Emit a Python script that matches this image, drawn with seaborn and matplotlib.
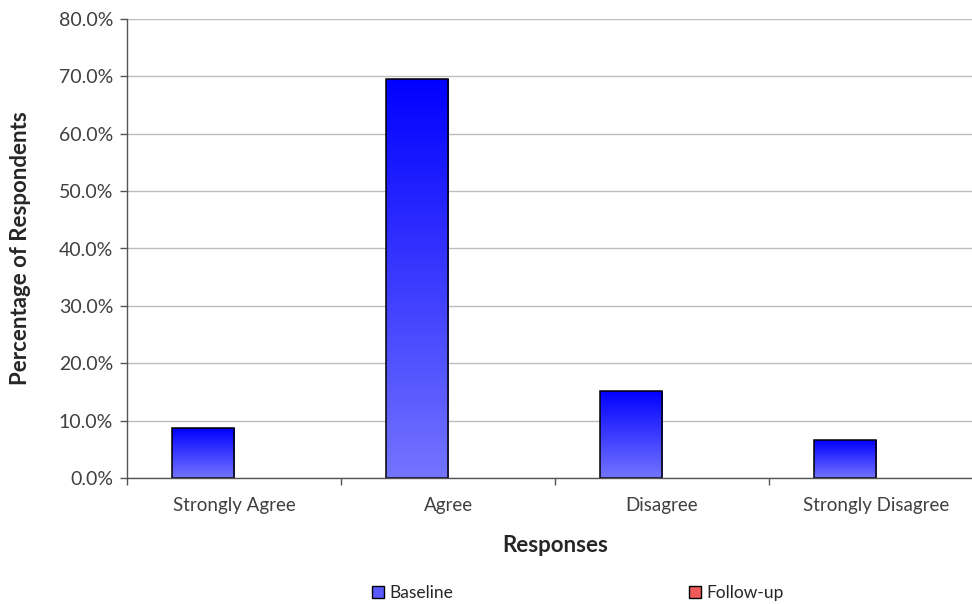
import numpy as np
import pandas as pd
import matplotlib
matplotlib.use("Agg")
import matplotlib.pyplot as plt
from matplotlib.patches import Patch
from matplotlib.colors import LinearSegmentedColormap
from matplotlib.ticker import FixedLocator, FuncFormatter
import seaborn as sns

# Survey responses (percentage of respondents)
responses = ["Strongly Agree", "Agree", "Disagree", "Strongly Disagree"]
baseline = [8.7, 69.6, 15.2, 6.6]
follow_up = [0.0, 0.0, 0.0, 0.0]
series = ["Baseline", "Follow-up"]
y_ticks = [0, 10, 20, 30, 40, 50, 60, 70, 80]

df = pd.DataFrame({
    "Response": responses * 2,
    "Percent": baseline + follow_up,
    "Survey": [series[0]] * len(responses) + [series[1]] * len(responses),
})

sns.set_theme(style="white")
plt.rcParams["font.family"] = ["Lato", "DejaVu Sans"]

fig = plt.figure(figsize=(9.72, 6.04), dpi=100)
ax = fig.add_axes([127 / 972, 1 - 478 / 604, (983 - 127) / 972, (478 - 19) / 604])

blue_grad = LinearSegmentedColormap.from_list("bg", ["#7474ff", "#0000ff"])
red_grad = LinearSegmentedColormap.from_list("rg", ["#ff8080", "#e02020"])

sns.barplot(data=df, x="Response", y="Percent", hue="Survey", order=responses,
            hue_order=series, palette=["#4d4dff", "#f05050"], width=0.58,
            edgecolor="black", linewidth=1.1, ax=ax, legend=False, saturation=1)

# vertical gradient fill for each bar
grad = np.linspace(0, 1, 256).reshape(-1, 1)
for i, p in enumerate(list(ax.patches)):
    h = p.get_height()
    if h <= 0:
        p.set_visible(False)
        continue
    x0, w = p.get_x(), p.get_width()
    cmap = blue_grad if i < len(responses) else red_grad
    im = ax.imshow(grad, cmap=cmap, origin="lower", aspect="auto",
                   extent=[x0, x0 + w, 0, h], zorder=p.get_zorder() - 0.1)
    im.set_clip_path(p)
    p.set_facecolor("none")

ax.set_xlim(-0.5, len(responses) - 0.5)
ax.set_ylim(0, 80)
ax.yaxis.set_major_locator(FixedLocator(y_ticks))
ax.yaxis.set_major_formatter(FuncFormatter(lambda v, _: f"{v:.1f}%"))
ax.grid(axis="y", color="#bdbdbd", linewidth=1)
ax.set_axisbelow(True)

for s in ["top", "right"]:
    ax.spines[s].set_visible(False)
for s in ["left", "bottom"]:
    ax.spines[s].set_color("#555555")
    ax.spines[s].set_linewidth(1)

ax.tick_params(axis="y", which="major", direction="out", length=5, width=1,
               color="#555555", labelsize=14, labelcolor="#404040", pad=5, left=True)
ax.tick_params(axis="x", which="major", length=0, labelsize=13.5,
               labelcolor="#404040", pad=14)
ax.set_xticks(np.arange(-0.5, len(responses) + 0.5), minor=True)
ax.tick_params(axis="x", which="minor", direction="out", length=5, width=1,
               color="#555555", bottom=True)

ax.set_xlabel("Responses", fontsize=16, fontweight="bold", labelpad=15)
ax.set_ylabel("Percentage of Respondents", fontsize=16, fontweight="bold", labelpad=20)

handles = [Patch(facecolor="#5a5aff", edgecolor="black", linewidth=1),
           Patch(facecolor="#f05a5a", edgecolor="black", linewidth=1)]
for hnd, lab, xpos in zip(handles, series, [372, 689]):
    fig.legend([hnd], [lab], loc="center left",
               bbox_to_anchor=(xpos / 972, 1 - 593 / 604), frameon=False,
               fontsize=12.5, handlelength=0.7, handleheight=0.7,
               handletextpad=0.3, borderpad=0, borderaxespad=0)

fig.savefig("out.png", dpi=100)
